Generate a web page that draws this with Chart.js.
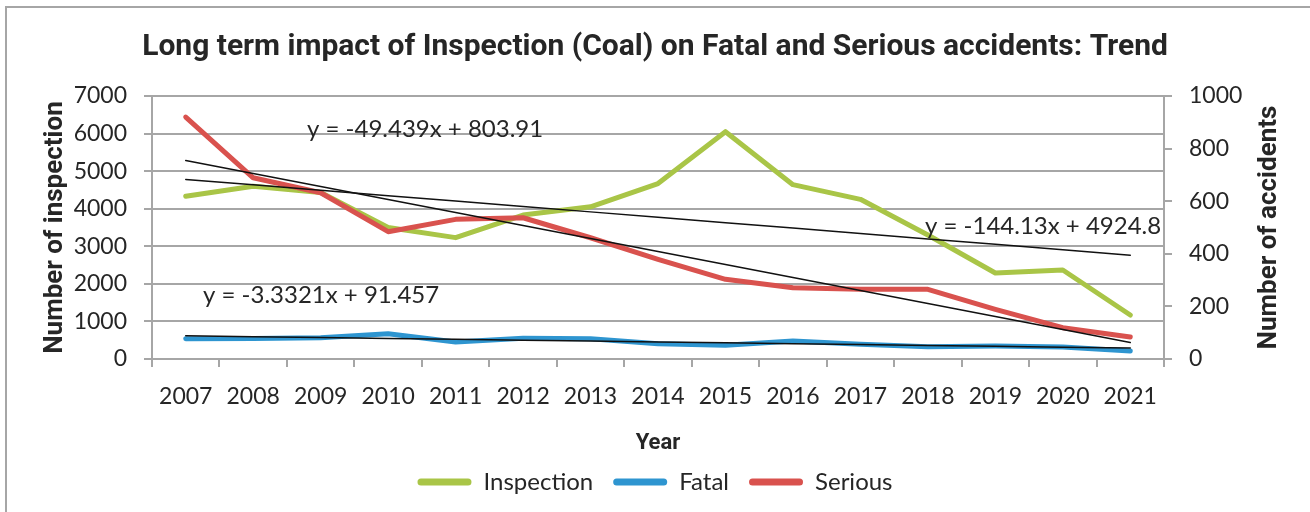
<!DOCTYPE html>
<html>
<head>
<meta charset="utf-8">
<script src="https://cdn.jsdelivr.net/npm/chart.js@4.4.1/dist/chart.umd.min.js"></script>
<style>
  html, body { margin: 0; padding: 0; background: #ffffff; }
  #wrap { position: relative; width: 1310px; height: 512px; overflow: hidden; }
  #frame { position: absolute; left: 5px; top: 6px; width: 1400px; height: 600px;
           border-left: 2px solid #a6a6a6; border-top: 2px solid #a6a6a6; box-sizing: border-box; }
  canvas { position: absolute; left: 0; top: 0; }
</style>
</head>
<body>
<div id="wrap">
  <div id="frame"></div>
  <canvas id="c" width="1310" height="512"></canvas>
</div>
<script>
// ---- data ----
const years = ['2007','2008','2009','2010','2011','2012','2013','2014','2015','2016','2017','2018','2019','2020','2021'];
const inspection = [4330, 4600, 4430, 3500, 3230, 3830, 4050, 4670, 6050, 4640, 4250, 3300, 2290, 2370, 1170];
const fatal      = [77, 78, 81, 96, 65, 79, 77, 58, 52, 68, 56, 47, 49, 46, 30];
const serious    = [920, 689, 632, 484, 531, 537, 461, 379, 303, 271, 265, 265, 189, 119, 84];

// trendline equations as printed on the chart (slope, intercept)
const trendInspection = [-144.13, 4924.8];
const trendFatal      = [-3.3321, 91.457];
const trendSerious    = [-49.439, 803.91];

const leftTicks  = [0, 1000, 2000, 3000, 4000, 5000, 6000, 7000];
const rightTicks = [0, 200, 400, 600, 800, 1000];
const rightTitle = 'Number of accidents';

function trendSeries(coef) {
  return years.map((_, i) => coef[0] * (i + 1) + coef[1]);
}
function eqText(coef) {
  return 'y = ' + coef[0] + 'x + ' + coef[1];
}

const GRID = '#a6a6a6';
const TXT = '#262626';
const GREEN = '#a9c547';
const BLUE = '#2e95d0';
const RED = '#d9524e';

const extraText = {
  id: 'extraText',
  afterDatasetsDraw(chart) {
    const ctx = chart.ctx;
    const a = chart.chartArea;
    ctx.save();
    ctx.fillStyle = TXT;
    ctx.font = '24px Lato';
    ctx.textAlign = 'left';
    ctx.textBaseline = 'middle';
    ctx.fillText(eqText(trendSerious), a.left + 155, a.top + 33);
    ctx.fillText(eqText(trendFatal), a.left + 51, a.top + 199);
    ctx.fillText(eqText(trendInspection), a.left + 773, a.top + 130);
    ctx.restore();
  },
  afterDraw(chart) {
    // right axis title, reading bottom-to-top as in the reference
    const ctx = chart.ctx;
    const a = chart.chartArea;
    ctx.save();
    ctx.translate(a.right + 105, (a.top + a.bottom) / 2);
    ctx.rotate(-Math.PI / 2);
    ctx.fillStyle = TXT;
    ctx.font = 'bold 26px Roboto';
    ctx.textAlign = 'center';
    ctx.textBaseline = 'middle';
    ctx.fillText(rightTitle, 0, 0);
    ctx.restore();
  }
};

const common = { fill: false, tension: 0, pointRadius: 0, pointHoverRadius: 0,
                 borderCapStyle: 'round', borderJoinStyle: 'round' };

new Chart(document.getElementById('c'), {
  type: 'line',
  data: {
    labels: years,
    datasets: [
      Object.assign({ label: 'Inspection', data: inspection, yAxisID: 'y',
        borderColor: GREEN, backgroundColor: GREEN, borderWidth: 5, order: 3 }, common),
      Object.assign({ label: 'Fatal', data: fatal, yAxisID: 'y1',
        borderColor: BLUE, backgroundColor: BLUE, borderWidth: 5, order: 2 }, common),
      Object.assign({ label: 'Serious', data: serious, yAxisID: 'y1',
        borderColor: RED, backgroundColor: RED, borderWidth: 5, order: 1 }, common),
      Object.assign({ label: 'trendInspection', data: trendSeries(trendInspection), yAxisID: 'y',
        borderColor: '#111111', backgroundColor: '#111111', borderWidth: 1.5, order: 0 }, common),
      Object.assign({ label: 'trendFatal', data: trendSeries(trendFatal), yAxisID: 'y1',
        borderColor: '#111111', backgroundColor: '#111111', borderWidth: 1.5, order: 0 }, common),
      Object.assign({ label: 'trendSerious', data: trendSeries(trendSerious), yAxisID: 'y1',
        borderColor: '#111111', backgroundColor: '#111111', borderWidth: 1.5, order: 0 }, common)
    ]
  },
  options: {
    responsive: false,
    animation: false,
    devicePixelRatio: 1,
    layout: { padding: { left: 0, right: 0, top: 0, bottom: 8 } },
    plugins: {
      tooltip: { enabled: false },
      title: {
        display: true,
        text: 'Long term impact of Inspection (Coal) on Fatal and Serious accidents: Trend',
        color: TXT,
        font: { family: 'Roboto', weight: 'bold', size: 30, lineHeight: 1.2 },
        padding: { top: 29, bottom: 31 }
      },
      legend: {
        position: 'bottom',
        labels: {
          color: TXT,
          font: { family: 'Lato', size: 24 },
          boxWidth: 54,
          boxHeight: 7,
          useBorderRadius: true,
          borderRadius: 3.5,
          padding: 20,
          filter: (item) => !item.text.startsWith('trend'),
          sort: (a, b) => a.datasetIndex - b.datasetIndex,
          generateLabels(chart) {
            return chart.data.datasets.map((d, i) => ({
              text: d.label, fillStyle: d.borderColor, strokeStyle: d.borderColor,
              lineWidth: 0, hidden: false, datasetIndex: i, fontColor: TXT, borderRadius: 3.5
            }));
          }
        }
      }
    },
    scales: {
      x: {
        type: 'category',
        offset: true,
        afterFit(s) { s.height = 91; },
        grid: { offset: true, drawOnChartArea: false, drawTicks: true, tickLength: 8, color: GRID, lineWidth: 2 },
        border: { display: true, color: GRID, width: 2 },
        ticks: { color: TXT, font: { family: 'Lato', size: 23 }, padding: 16, maxRotation: 0, autoSkip: false },
        title: { display: true, text: 'Year', color: TXT,
                 font: { family: 'Roboto', weight: 'bold', size: 22, lineHeight: 1 }, padding: { top: 0, bottom: -4 } }
      },
      y: {
        position: 'left',
        min: 0, max: 7000,
        afterFit(s) { s.width = 152; },
        afterBuildTicks(s) { s.ticks = leftTicks.map(v => ({ value: v })); },
        grid: { drawOnChartArea: true, drawTicks: true, tickLength: 8, color: GRID, lineWidth: 2 },
        border: { display: true, color: GRID, width: 2 },
        ticks: { color: TXT, font: { family: 'Lato', size: 23 }, padding: 17, callback: (v) => String(v) },
        title: { display: true, text: 'Number of inspection', color: TXT,
                 font: { family: 'Roboto', weight: 'bold', size: 26, lineHeight: 1.2 }, padding: { top: 40, bottom: 0 } }
      },
      y1: {
        position: 'right',
        min: 0, max: 1000,
        afterFit(s) { s.width = 146; },
        afterBuildTicks(s) { s.ticks = rightTicks.map(v => ({ value: v })); },
        grid: { drawOnChartArea: false, drawTicks: true, tickLength: 8, color: GRID, lineWidth: 2 },
        border: { display: true, color: GRID, width: 2 },
        ticks: { color: TXT, font: { family: 'Lato', size: 23 }, padding: 17, callback: (v) => String(v) },
        title: { display: false }
      }
    }
  },
  plugins: [extraText]
});
</script>
</body>
</html>
